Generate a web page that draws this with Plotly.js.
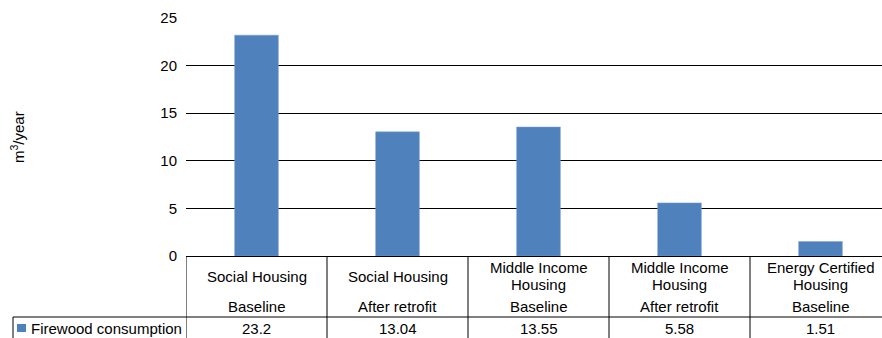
<!DOCTYPE html>
<html>
<head>
<meta charset="utf-8">
<script src="https://cdn.plot.ly/plotly-3.0.1.min.js"></script>
<style>
html,body{margin:0;padding:0;overflow:hidden;background:#fff;}
#chart{width:900px;height:338px;}
</style>
</head>
<body>
<div id="chart"></div>
<script>
// ---- data ----
const groups = ["Social Housing", "Social Housing", "Middle Income Housing", "Middle Income Housing", "Energy Certified Housing"];
const scenarios = ["Baseline", "After retrofit", "Baseline", "After retrofit", "Baseline"];
const values = [23.2, 13.04, 13.55, 5.58, 1.51];
const valueLabels = ["23.2", "13.04", "13.55", "5.58", "1.51"];
const seriesName = "Firewood consumption";
const yTitle = "m<sup>3</sup>/year";
const yTicks = [0, 5, 10, 15, 20, 25];

// ---- layout geometry (pixels) ----
const W = 900, H = 338;
const L = 186, R = 891, T = 18, B = 256;
const px = x => (x - L) / (R - L);
const py = y => (B - y) / (B - T);
const FONT = "Liberation Sans, Arial, sans-serif";
const FS = 15;
const BLUE = "#4f81bd";

function wrap(text, limit) {
  const words = text.split(" ");
  const lines = [];
  let cur = "";
  words.forEach(w => {
    const t = cur ? cur + " " + w : w;
    if (t.length > limit && cur) { lines.push(cur); cur = w; } else { cur = t; }
  });
  if (cur) lines.push(cur);
  return lines;
}

const idx = values.map((v, i) => i);

const trace = {
  type: "bar",
  x: idx,
  y: values,
  name: seriesName,
  marker: {color: BLUE, line: {color: "#7a9fd0", width: 0.5}},
  hoverinfo: "skip"
};

const shapes = [];
const annotations = [];
const lineStyle = {color: "#000", width: 1};

// column separators
for (let i = 0; i <= values.length; i++) {
  shapes.push({type: "line", xref: "x", yref: "paper", x0: i - 0.5, x1: i - 0.5, y0: py(B), y1: py(H + 5), line: lineStyle, layer: "above"});
}
// horizontal separator between category row and value row
shapes.push({type: "line", xref: "paper", yref: "paper", x0: px(13), x1: px(R + 5), y0: py(317), y1: py(317), line: lineStyle});
// legend cell left border
shapes.push({type: "line", xref: "paper", yref: "paper", x0: px(13), x1: px(13), y0: py(317), y1: py(H + 5), line: lineStyle});
// legend key
shapes.push({type: "rect", xref: "paper", yref: "paper", x0: px(17), x1: px(26), y0: py(324), y1: py(332), fillcolor: BLUE, line: {width: 0}});

// category labels
groups.forEach((g, i) => {
  const lines = wrap(g, 16);
  const lh = 17;
  const start = 276 - (lines.length - 1) * lh / 2;
  lines.forEach((ln, k) => {
    annotations.push({xref: "x", yref: "paper", x: i, y: py(start + k * lh), text: ln, showarrow: false,
      xanchor: "center", yanchor: "middle", font: {family: FONT, size: FS, color: "#000"}});
  });
  annotations.push({xref: "x", yref: "paper", x: i, y: py(306), text: scenarios[i], showarrow: false,
    xanchor: "center", yanchor: "middle", font: {family: FONT, size: FS, color: "#000"}});
  annotations.push({xref: "x", yref: "paper", x: i, y: py(328), text: valueLabels[i], showarrow: false,
    xanchor: "center", yanchor: "middle", font: {family: FONT, size: FS, color: "#000"}});
});

// legend text
annotations.push({xref: "paper", yref: "paper", x: px(29), y: py(328), text: seriesName, showarrow: false,
  xanchor: "left", yanchor: "middle", font: {family: FONT, size: FS, color: "#000"}});

// y axis title
annotations.push({xref: "paper", yref: "paper", x: px(17), y: py(137), text: yTitle, textangle: -90, showarrow: false,
  xanchor: "center", yanchor: "middle", font: {family: FONT, size: FS, color: "#000"}});

const layout = {
  width: W, height: H,
  margin: {l: L, r: W - R, t: T, b: H - B},
  paper_bgcolor: "#fff", plot_bgcolor: "#fff",
  showlegend: false,
  bargap: 0.69,
  font: {family: FONT, size: FS, color: "#000"},
  xaxis: {range: [-0.5, values.length - 0.5], showticklabels: false, showgrid: false, zeroline: false, ticks: "", fixedrange: true},
  yaxis: {range: [0, 25], tickvals: yTicks, ticktext: yTicks.map(String), showgrid: true, gridcolor: "#000", gridwidth: 1,
    zeroline: true, zerolinecolor: "#000", zerolinewidth: 1, ticks: "", ticklabelstandoff: 8,
    tickfont: {family: FONT, size: FS, color: "#000"}, showline: false, fixedrange: true},
  shapes: shapes,
  annotations: annotations
};

Plotly.newPlot("chart", [trace], layout, {displayModeBar: false, staticPlot: true});
</script>
</body>
</html>
